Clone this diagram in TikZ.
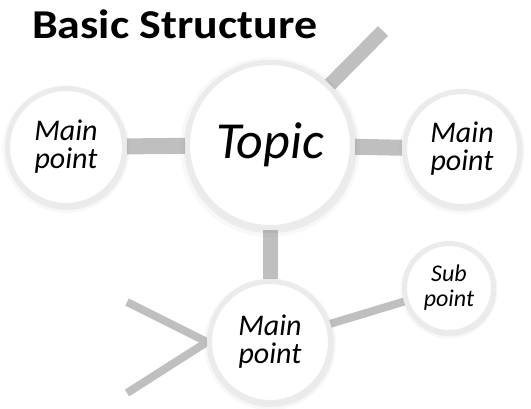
\documentclass[tikz,border=0pt]{standalone}
\usepackage{fontspec}
\usepackage{graphicx}
\setmainfont{Carlito}
\usetikzlibrary{shadows,backgrounds}
\begin{document}
\begin{tikzpicture}[x=1pt,y=-1pt,
  conn/.style={draw=black!25, line width=16pt},
  thin conn/.style={draw=black!25, line width=8pt},
  bubble/.style={circle, fill=white, draw=black!8, line width=5pt, inner sep=0pt, align=center,
    drop shadow={shadow xshift=0pt, shadow yshift=-2pt, shadow scale=1.09, opacity=0.06},
    drop shadow={shadow xshift=0.5pt, shadow yshift=-1.5pt, shadow scale=1.05, opacity=0.10}},
  mainfont/.style={font=\fontsize{30}{28}\selectfont\itshape},
]
\useasboundingbox (0,0) rectangle (531,408);
\node[anchor=base west, inner sep=0pt, font=\fontsize{41}{41}\selectfont\bfseries] (title) at (32,38) {\scalebox{1.12}[1]{Basic Structure}};
\node[bubble, minimum size=165pt, font=\fontsize{52}{52}\selectfont\itshape] (topic) at (270,145) {Topic};
\node[bubble, minimum size=117pt, mainfont] (left) at (66,147) {Main\\point};
\node[bubble, minimum size=115pt, mainfont] (right) at (462,149) {Main\\point};
\node[bubble, minimum size=121pt, mainfont] (bottom) at (270,342) {Main\\point};
\node[bubble, minimum size=89pt, font=\fontsize{24}{25}\selectfont\itshape] (sub) at (449,288) {Sub\\point};
\coordinate (diagend) at (383,31);
\coordinate (lb1) at (127,302);
\coordinate (lb2) at (127,393);
\begin{scope}[on background layer]
  \draw[conn] (left) -- (topic);
  \draw[conn] (topic) -- (right);
  \draw[conn, line width=15pt] (topic) -- (bottom);
  \draw[conn, line width=14pt] (topic) -- (diagend);
  \draw[thin conn] (bottom) -- (sub);
  \draw[thin conn] (lb1) -- (bottom.180);
  \draw[thin conn] (lb2) -- (bottom.180);
\end{scope}
\end{tikzpicture}
\end{document}
